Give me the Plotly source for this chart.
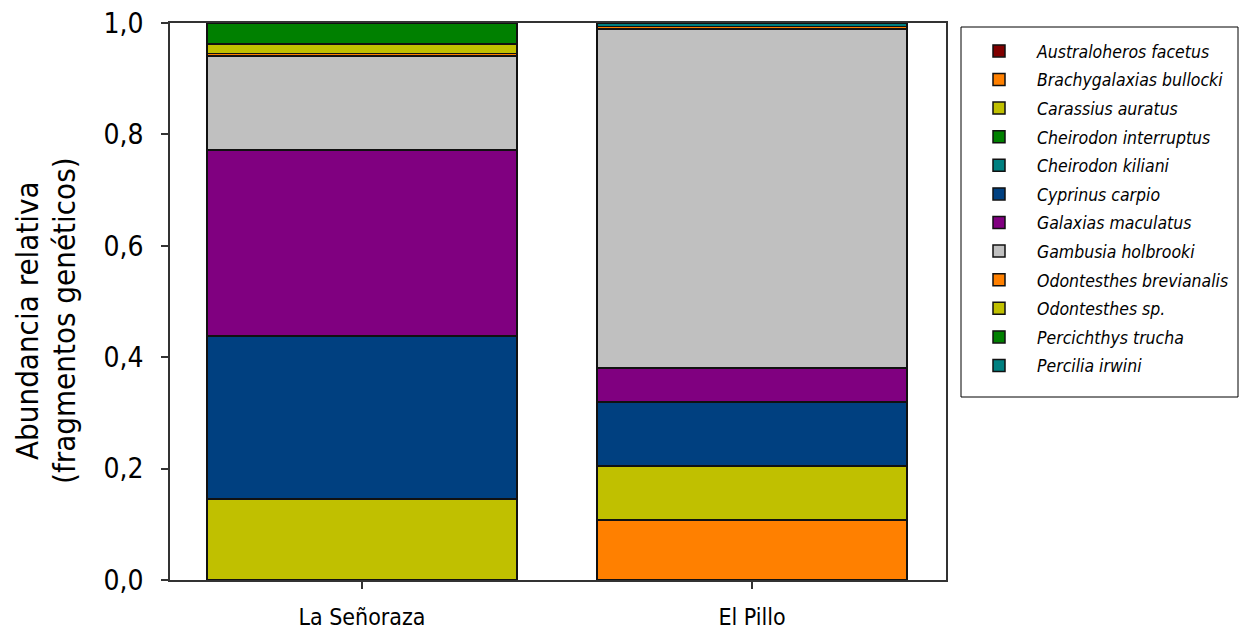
import plotly.graph_objects as go

sites = ["La Señoraza", "El Pillo"]

species = [
    "Australoheros facetus",
    "Brachygalaxias bullocki",
    "Carassius auratus",
    "Cheirodon interruptus",
    "Cheirodon kiliani",
    "Cyprinus carpio",
    "Galaxias maculatus",
    "Gambusia holbrooki",
    "Odontesthes brevianalis",
    "Odontesthes sp.",
    "Percichthys trucha",
    "Percilia irwini",
]

australoheros_facetus = [None, None]
brachygalaxias_bullocki = [None, 0.108]
carassius_auratus = [0.145, 0.097]
cheirodon_interruptus = [None, None]
cheirodon_kiliani = [None, None]
cyprinus_carpio = [0.293, 0.115]
galaxias_maculatus = [0.334, 0.061]
gambusia_holbrooki = [0.169, 0.608]
odontesthes_brevianalis = [0.004, 0.005]
odontesthes_sp = [0.017, None]
percichthys_trucha = [0.038, None]
percilia_irwini = [None, 0.006]

values = [
    australoheros_facetus, brachygalaxias_bullocki, carassius_auratus,
    cheirodon_interruptus, cheirodon_kiliani, cyprinus_carpio,
    galaxias_maculatus, gambusia_holbrooki, odontesthes_brevianalis,
    odontesthes_sp, percichthys_trucha, percilia_irwini,
]

colors = [
    "#800000", "#FF8000", "#C0C000", "#008000", "#008080", "#004080",
    "#800080", "#C0C0C0", "#FF8000", "#C0C000", "#008000", "#008080",
]

yticks = [0, 0.2, 0.4, 0.6, 0.8, 1.0]
yticklabels = ["0,0", "0,2", "0,4", "0,6", "0,8", "1,0"]

FONT = "DejaVu Sans Condensed, Liberation Sans, sans-serif"

fig = go.Figure()
for name, vals, col in zip(species, values, colors):
    fig.add_trace(go.Bar(
        x=sites, y=vals, name=name, legendgroup=name,
        marker=dict(color=col, line=dict(color="#111111", width=1.5)),
    ))

W, H = 1244, 632
L, R, T, B = 170, 298, 23, 52
pw = W - L - R
ph = H - T - B

def px_x(p):
    return (p - L) / pw

def px_y(p):
    return (H - B - p) / ph

fig.update_layout(
    width=W, height=H,
    margin=dict(l=L, r=R, t=T, b=B, pad=0, autoexpand=False),
    barmode="stack",
    bargap=0.205,
    plot_bgcolor="white",
    paper_bgcolor="white",
    font=dict(family=FONT, color="#000000"),
    legend=dict(
        x=px_x(961), y=px_y(33), xanchor="left", yanchor="top",
        traceorder="grouped", tracegroupgap=2.85,
        font=dict(family=FONT, size=17.5, style="italic", color="#000000"),
        bgcolor="rgba(0,0,0,0)", borderwidth=0,
        itemwidth=66,
    ),
    xaxis=dict(
        type="category",
        range=[-0.492, 1.497],
        showline=True, linecolor="#333333", linewidth=1.5, mirror=True,
        ticks="outside", ticklen=7, tickcolor="#333333", tickwidth=1.5,
        tickfont=dict(family=FONT, size=23),
        ticklabelstandoff=9,
        showgrid=False, zeroline=False,
    ),
    yaxis=dict(
        range=[0, 1],
        tickvals=yticks, ticktext=yticklabels,
        showline=True, linecolor="#333333", linewidth=1.5, mirror=True,
        ticks="outside", ticklen=7, tickcolor="#333333", tickwidth=1.5,
        tickfont=dict(family=FONT, size=28),
        ticklabelstandoff=12,
        showgrid=False, zeroline=False,
    ),
    shapes=[
        dict(type="rect", xref="paper", yref="paper",
             x0=px_x(961), x1=px_x(1238), y0=px_y(397), y1=px_y(27),
             line=dict(color="#000000", width=1), fillcolor="rgba(0,0,0,0)",
             layer="above"),
    ],
    annotations=[
        dict(text="Abundancia relativa", textangle=-90, xref="paper", yref="paper",
             x=px_x(27), y=px_y(321), xanchor="center", yanchor="middle", showarrow=False,
             font=dict(family=FONT, size=31, color="#000000")),
        dict(text="(fragmentos genéticos)", textangle=-90, xref="paper", yref="paper",
             x=px_x(64), y=px_y(321), xanchor="center", yanchor="middle", showarrow=False,
             font=dict(family=FONT, size=31, color="#000000")),
    ],
)

fig.write_html("out.html")
